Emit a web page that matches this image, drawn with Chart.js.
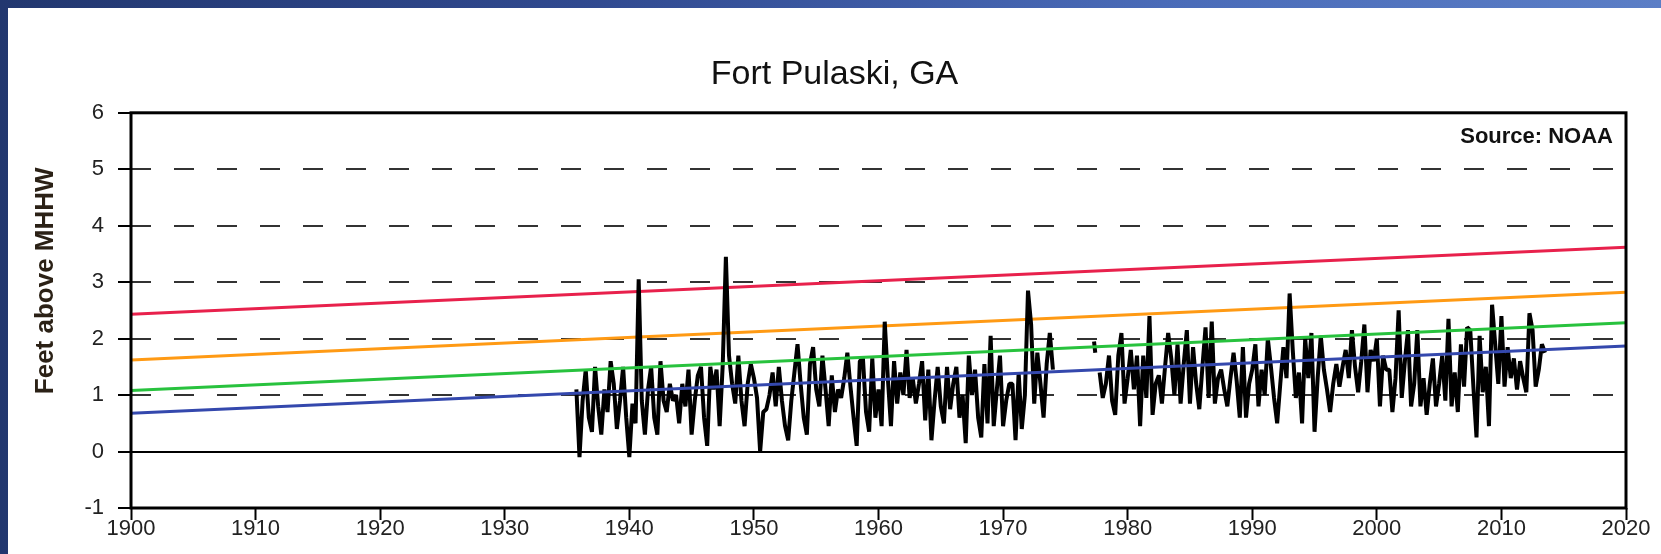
<!DOCTYPE html>
<html>
<head>
<meta charset="utf-8">
<title>Fort Pulaski, GA</title>
<script src="https://cdn.jsdelivr.net/npm/chart.js@4"></script>
<style>
  html, body { margin: 0; padding: 0; }
  body {
    width: 1661px; height: 554px; overflow: hidden;
    background: linear-gradient(to right, #22376f 0%, #30498f 35%, #4a6bb8 70%, #5b7ec6 100%);
  }
  #panel { position: absolute; left: 8px; top: 8px; width: 1653px; height: 546px; background: #fff; }
</style>
</head>
<body>
<div id="panel"><canvas id="plot"></canvas></div>
<script>
const chartTitle = 'Fort Pulaski, GA';
const yTitle = 'Feet above MHHW';
const sourceNote = 'Source: NOAA';

// quarterly highest water level, feet above MHHW
const step = 0.25;
const startA = 1935.75;
const levelsA = [
  1.1,
  -0.1, 0.9, 1.45, 0.6,
  0.35, 1.5, 0.8, 0.3,
  1.1, 0.7, 1.6, 1.2,
  0.4, 0.9, 1.5, 0.6,
  -0.1, 0.85, 0.5, 3.05,   // 1940
  0.9, 0.3, 1.1, 1.5,
  0.6, 0.3, 1.6, 0.9,
  0.7, 1.2, 0.9, 1.0,
  0.5, 1.2, 0.8, 1.45,
  0.3, 0.9, 1.35, 1.5,
  0.6, 0.1, 1.5, 1.1,
  1.45, 0.45, 1.55, 3.45,  // 1947
  1.7, 1.2, 0.85, 1.7,
  0.9, 0.45, 1.2, 1.55,
  1.3, 0.95, 0.0, 0.7,     // 1950
  0.75, 1.0, 1.4, 0.8,
  1.5, 0.9, 0.45, 0.2,
  0.9, 1.4, 1.9, 1.2,
  0.6, 0.3, 1.55, 1.85,
  1.1, 0.8, 1.7, 1.1,
  0.45, 1.35, 0.7, 1.1,
  0.95, 1.3, 1.75, 1.15,
  0.6, 0.1, 1.6, 1.65,
  0.7, 0.35, 1.65, 0.6,
  1.1, 0.45, 2.3, 1.3,     // 1960
  0.45, 1.6, 0.85, 1.4,
  1.0, 1.8, 0.95, 1.3,
  0.85, 1.2, 1.6, 0.55,
  1.45, 0.2, 0.9, 1.5,
  0.8, 0.5, 1.5, 0.75,
  1.2, 1.5, 0.6, 1.0,
  0.15, 1.7, 1.0, 1.45,
  0.6, 0.25, 1.55, 0.5,
  2.05, 0.45, 1.1, 1.7,
  0.45, 0.9, 1.2, 1.2,     // 1970
  0.2, 1.4, 0.4, 1.0,
  2.85, 2.25, 0.85, 1.75,
  1.2, 0.6, 1.55, 2.1,
  1.45
];
const startB = 1977.3;
const levelsB = [1.95, 1.75];
const startC = 1977.75;
const levelsC = [
  1.4,
  0.95, 1.2, 1.7, 0.9,
  0.65, 1.7, 2.1, 0.85,
  1.3, 1.8, 1.1, 1.7,      // 1980
  0.45, 1.7, 0.95, 2.4,
  0.65, 1.2, 1.35, 0.85,
  1.5, 2.1, 1.65, 1.0,
  1.9, 0.85, 1.55, 2.15,
  0.85, 1.85, 1.2, 0.75,
  1.5, 2.2, 0.95, 2.3,
  0.85, 1.3, 1.45, 1.1,
  0.8, 1.3, 1.75, 1.25,
  0.6, 1.85, 0.6, 1.2,
  1.45, 1.9, 0.8, 1.45,    // 1990
  1.0, 2.0, 1.5, 0.95,
  0.5, 1.2, 1.85, 1.3,
  2.8, 1.8, 0.95, 1.4,
  0.5, 2.0, 1.3, 2.1,
  0.35, 1.3, 2.05, 1.45,
  1.1, 0.7, 1.2, 1.55,
  1.15, 1.5, 1.8, 1.3,
  2.15, 1.5, 1.05, 1.6,
  2.25, 1.05, 1.8, 1.6,
  2.0, 0.8, 1.7, 1.45,     // 2000
  1.45, 0.7, 1.3, 2.5,
  0.95, 1.6, 2.15, 0.8,
  1.2, 2.15, 0.8, 1.3,
  0.65, 1.2, 1.65, 0.8,
  1.2, 1.7, 0.9, 2.35,
  0.8, 1.4, 0.7, 1.9,
  1.15, 2.2, 2.15, 1.15,
  0.25, 2.05, 1.05, 1.5,
  0.45, 2.6, 1.9, 1.2,
  2.4, 1.15, 1.85, 1.3,    // 2010
  1.65, 1.1, 1.6, 1.3,
  1.05, 2.45, 2.15, 1.15,
  1.45, 1.9, 1.75
];

// trend lines, value at 1900 and 2020
const trendYears = [1900, 2020];
const redTrend = [2.43, 3.62];
const orangeTrend = [1.62, 2.82];
const greenTrend = [1.08, 2.28];
const blueTrend = [0.68, 1.87];

Chart.defaults.font.family = '"Liberation Sans", Arial, sans-serif';

function series(start, vals, dx) {
  return vals.map((v, i) => ({ x: start + i * dx, y: v }));
}
function trend(vals) {
  return trendYears.map((x, i) => ({ x: x, y: vals[i] }));
}
function levelSet(points) {
  return { data: points, borderColor: '#000', borderWidth: 4, borderJoinStyle: 'bevel', order: 3 };
}

const extras = {
  id: 'extras',
  afterDatasetsDraw(chart) {
    const ctx = chart.ctx, a = chart.chartArea;
    ctx.save();
    ctx.strokeStyle = '#000';
    ctx.lineWidth = 3;
    ctx.strokeRect(a.left, a.top, a.right - a.left, a.bottom - a.top);
    ctx.fillStyle = '#111';
    ctx.font = 'bold 22px "Liberation Sans", Arial, sans-serif';
    ctx.textAlign = 'right';
    ctx.textBaseline = 'alphabetic';
    ctx.fillText(sourceNote, a.right - 13, a.top + 30);
    ctx.translate(38, a.top + 168);
    ctx.rotate(-Math.PI / 2);
    ctx.textAlign = 'center';
    ctx.textBaseline = 'middle';
    ctx.font = 'bold 26px "Liberation Sans", Arial, sans-serif';
    ctx.fillStyle = '#2b2116';
    ctx.fillText(yTitle, 0, 0);
    ctx.restore();
  }
};

const ctx = document.getElementById('plot').getContext('2d');
window.myChart = new Chart(ctx, {
  type: 'line',
  data: {
    datasets: [
      { data: trend(blueTrend), borderColor: '#3448ad', borderWidth: 3, order: 1 },
      { data: trend(greenTrend), borderColor: '#28c23e', borderWidth: 3, order: 2 },
      levelSet(series(startA, levelsA, step)),
      levelSet(series(startB, levelsB, 0.1)),
      levelSet(series(startC, levelsC, step)),
      { data: trend(orangeTrend), borderColor: '#ff9a14', borderWidth: 3, order: 4 },
      { data: trend(redTrend), borderColor: '#e8214c', borderWidth: 3, order: 5 }
    ]
  },
  plugins: [extras],
  options: {
    responsive: true,
    maintainAspectRatio: false,
    animation: false,
    elements: { point: { radius: 0 }, line: { tension: 0, fill: false } },
    layout: { padding: { left: 35, right: 35, top: 0, bottom: 0 } },
    plugins: {
      legend: { display: false },
      tooltip: { enabled: false },
      title: {
        display: true,
        text: chartTitle,
        color: '#111',
        font: { size: 34, weight: 'normal' },
        padding: { top: 46, bottom: 18 }
      }
    },
    scales: {
      x: {
        type: 'linear',
        min: 1900,
        max: 2020,
        afterFit: s => { s.height = 46; },
        ticks: {
          stepSize: 10,
          padding: -4,
          color: '#222',
          font: { size: 22 },
          maxRotation: 0,
          autoSkip: false,
          callback: v => String(v)
        },
        grid: { drawOnChartArea: false, drawTicks: true, tickLength: 12, tickColor: '#000', tickWidth: 2 },
        border: { display: false }
      },
      y: {
        min: -1,
        max: 6,
        afterFit: s => { s.width = 88; },
        ticks: { stepSize: 1, padding: 14, color: '#222', font: { size: 22 } },
        grid: {
          color: c => {
            if (!c.tick) return 'rgba(0,0,0,0)';
            if (c.tick.value === 0) return '#000';
            return (c.tick.value > 0 && c.tick.value < 6) ? '#333' : 'rgba(0,0,0,0)';
          },
          lineWidth: 2,
          tickLength: 13,
          tickColor: '#000',
          tickWidth: 2
        },
        border: { display: false, dash: c => (c.tick && c.tick.value !== 0 ? [20, 23] : []) }
      }
    }
  }
});
</script>
</body>
</html>
